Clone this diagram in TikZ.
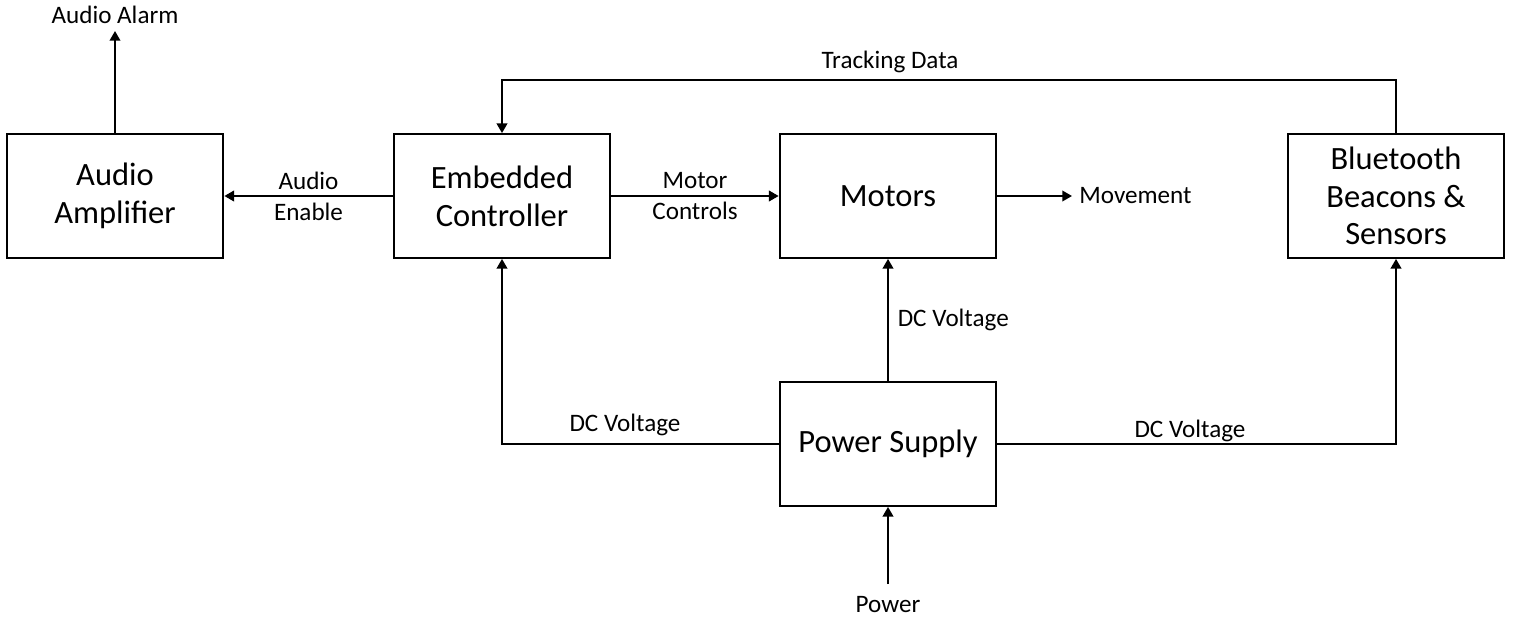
\documentclass[tikz,border=0pt]{standalone}
\usepackage{fontspec}
\setmainfont{Carlito}
\usetikzlibrary{arrows.meta, positioning, calc}

\begin{document}
\begin{tikzpicture}[x=0.02cm, y=-0.02cm,
    blk/.style={draw, line width=1.3pt, minimum width=4.33cm, minimum height=2.47cm,
                align=center, font=\fontsize{18.5}{21.5}\selectfont},
    sig/.style={-{Triangle[length=5.5pt, width=6pt]}, line width=1.1pt},
    lbl/.style={font=\fontsize{14.3}{17.5}\selectfont, align=center, inner sep=1pt}]
  \useasboundingbox (0,0) rectangle (1514,622);

  % top row of blocks
  \node[blk] (amp)  at (115,196)  {Audio\\Amplifier};
  \node[blk] (ctrl) at (502,196)  {Embedded\\Controller};
  \node[blk] (mot)  at (888,196)  {Motors};
  \node[blk] (bt)   at (1396,196) {Bluetooth\\Beacons \&\\Sensors};

  % power supply block
  \node[blk] (psu) at (888,444) {Power Supply};

  % free ends of the outer connectors
  \coordinate (alarm) at (115,31);
  \coordinate (move)  at (1072,196);
  \coordinate (mains) at (888,584);
  \coordinate (trk)   at (1396,80);

  % controller outputs
  \draw[sig] (amp.north) -- (alarm);
  \node[lbl, above=3pt of alarm] (alarmtxt) {Audio Alarm};
  \draw[sig] (ctrl.west) -- node[lbl] (entxt) {Audio\\Enable} (amp.east);
  \draw[sig] (ctrl.east) -- node[lbl] (mctxt) {Motor\\Controls} (mot.west);
  \draw[sig] (mot.east) -- (move);
  \node[lbl, right=3pt of move] (movetxt) {Movement};

  % tracking feedback
  \draw[sig] (bt.north) -- (trk) -| (ctrl.north);
  \node[lbl] (trktxt) at (890,62) {Tracking Data};

  % DC supply rails
  \draw[sig] (psu.west) -| (ctrl.south);
  \node[lbl] (dc1) at (625,425) {DC Voltage};
  \draw[sig] (psu.north) -- node[lbl, right=4pt] (dc2) {DC Voltage} (mot.south);
  \draw[sig] (psu.east) -| (bt.south);
  \node[lbl] (dc3) at (1190,431) {DC Voltage};

  % mains input
  \draw[sig] (mains) -- (psu.south);
  \node[lbl, below=6pt of mains] (powtxt) {Power};

\end{tikzpicture}
\end{document}
